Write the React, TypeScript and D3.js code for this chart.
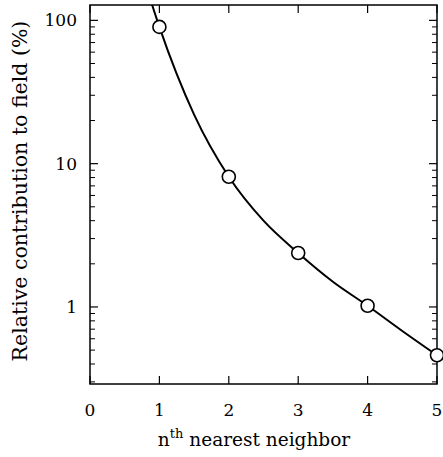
import React from "react";
import * as d3 from "d3";

const xTicks = [0, 1, 2, 3, 4, 5];
const yMajor = [1, 10, 100];
const yMinor = [0.3, 0.4, 0.5, 0.6, 0.7, 0.8, 0.9, 2, 3, 4, 5, 6, 7, 8, 9, 20, 30, 40, 50, 60, 70, 80, 90];
const pointX = [1, 2, 3, 4, 5];
const pointY = [90, 8.1, 2.38, 1.02, 0.46];
const curveX = [0.88, 1, 1.5, 2, 2.5, 3, 3.5, 4, 4.5, 5];
const curveY = [135, 90, 22, 8.1, 4.0, 2.38, 1.5, 1.02, 0.68, 0.46];

export default function App() {
  const W = 443, H = 457;
  const left = 90, right = 437, top = 5, bottom = 384;
  const x = d3.scaleLinear().domain([0, 5]).range([left, right]);
  const y = d3.scaleLog().domain([0.29, 128]).range([bottom, top]);
  const line = d3
    .line<number>()
    .x((_, i) => x(curveX[i]))
    .y((d) => y(d))
    .curve(d3.curveMonotoneX);
  const font = "DejaVu Serif";
  const tickLen = 8, minorLen = 5;
  return (
    <svg width={W} height={H} style={{ position: "absolute", left: 0, top: 0, fontFamily: font }}>
      <defs>
        <clipPath id="plot">
          <rect x={left} y={top} width={right - left} height={bottom - top} />
        </clipPath>
      </defs>
      <rect x={left} y={top} width={right - left} height={bottom - top} fill="none" stroke="#000" strokeWidth={1.5} />
      {xTicks.map((t) => (
        <g key={"xt" + t}>
          <line x1={x(t)} x2={x(t)} y1={bottom} y2={bottom - tickLen} stroke="#000" strokeWidth={1.2} />
          <line x1={x(t)} x2={x(t)} y1={top} y2={top + tickLen} stroke="#000" strokeWidth={1.2} />
          <text x={x(t)} y={416} textAnchor="middle" fontSize={17} fontFamily={font}>{t}</text>
        </g>
      ))}
      {yMajor.map((t) => (
        <g key={"ym" + t}>
          <line x1={left} x2={left + tickLen} y1={y(t)} y2={y(t)} stroke="#000" strokeWidth={1.2} />
          <line x1={right} x2={right - tickLen} y1={y(t)} y2={y(t)} stroke="#000" strokeWidth={1.2} />
          <text x={left - 13} y={y(t) + 6} textAnchor="end" fontSize={17} fontFamily={font}>{t}</text>
        </g>
      ))}
      {yMinor.map((t) => (
        <g key={"yn" + t}>
          <line x1={left} x2={left + minorLen} y1={y(t)} y2={y(t)} stroke="#000" strokeWidth={1} />
          <line x1={right} x2={right - minorLen} y1={y(t)} y2={y(t)} stroke="#000" strokeWidth={1} />
        </g>
      ))}
      <path d={line(curveY) || ""} fill="none" stroke="#000" strokeWidth={2} clipPath="url(#plot)" />
      {pointX.map((px, i) => (
        <circle key={"p" + i} cx={x(px)} cy={y(pointY[i])} r={6.5} fill="#fff" stroke="#000" strokeWidth={1.6} />
      ))}
      <text x={254} y={446} textAnchor="middle" fontSize={18.5} fontFamily={font}>
        n<tspan dy={-8} fontSize={13}>th</tspan><tspan dy={8}> nearest neighbor</tspan>
      </text>
      <text transform={`translate(27,191) rotate(-90)`} textAnchor="middle" fontSize={20.5} fontFamily={font}>
        Relative contribution to field (%)
      </text>
    </svg>
  );
}
